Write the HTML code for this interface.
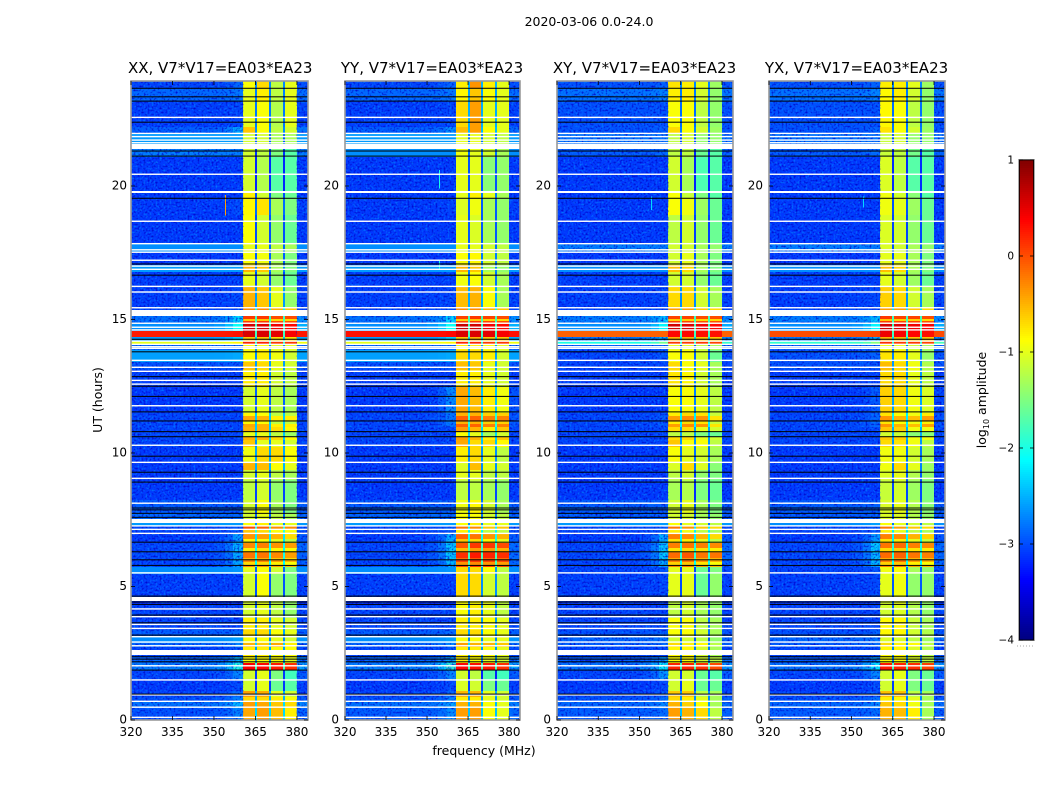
<!DOCTYPE html>
<html lang="en">
<head>
<meta charset="utf-8">
<title>2020-03-06 0.0-24.0</title>
<style>
html,body{margin:0;padding:0;background:#fff;width:1050px;height:800px;overflow:hidden}
svg{display:block}
text{font-family:"DejaVu Sans","Liberation Sans",sans-serif;fill:#000}
.cells rect,.cbar rect{shape-rendering:crispEdges}
</style>
</head>
<body>
<svg id="figure" xmlns="http://www.w3.org/2000/svg" width="1050" height="800" viewBox="0 0 1050 800">
  <defs>
    <filter id="speckLightA" x="0" y="0" width="100%" height="100%" color-interpolation-filters="sRGB">
      <feTurbulence type="fractalNoise" baseFrequency="0.5" numOctaves="1" seed="4"/>
      <feColorMatrix type="matrix" values="0 0 0 0 0  0 0 0 0 0.45  0 0 0 0 1  3 0 0 0 -1.42"/>
    </filter>
    <filter id="speckDarkA" x="0" y="0" width="100%" height="100%" color-interpolation-filters="sRGB">
      <feTurbulence type="fractalNoise" baseFrequency="0.5" numOctaves="1" seed="11"/>
      <feColorMatrix type="matrix" values="0 0 0 0 0  0 0 0 0 0  0 0 0 0 0.78  2.6 0 0 0 -1.25"/>
    </filter>
  </defs>
  <text x="589" y="26" text-anchor="middle" font-size="12.5">2020-03-06 0.0-24.0</text>
  <text transform="translate(102,400) rotate(-90)" text-anchor="middle" font-size="12.5">UT (hours)</text>
  <text x="484" y="755" text-anchor="middle" font-size="12.5">frequency (MHz)</text>
  <text transform="translate(986,400) rotate(-90)" text-anchor="middle" font-size="12.5">log<tspan font-size="8" dy="3">10</tspan><tspan dy="-3"> amplitude</tspan></text>
</svg>
<script>
// ---------- chart data (log10 amplitude) ----------
const polarisations = ['XX', 'YY', 'XY', 'YX'];
const baselineLabel = 'V7*V17=EA03*EA23';
const xTickLabels = [320, 335, 350, 365, 380];
const yTickLabels = [0, 5, 10, 15, 20];
const colorbarTickLabels = [-4, -3, -2, -1, 0, 1];

// start hour of each time block
const rowStartHours = [0,.45,.67,.86,1.09,1.5,1.87,2.13,2.36,2.73,2.88,3.11,3.37,3.82,4.31,4.61,5.47,5.73,5.99,6.25,6.63,7,7.27,7.38,7.75,8.24,8.99,9.36,9.63,10.22,10.49,10.97,11.5,12.47,13.11,13.41,13.86,14.04,14.19,14.34,14.57,14.87,15.13,15.47,16.22,16.78,17.04,17.53,17.87,18.91,19.55,19.74,21.09,21.39,21.95,22.21,23.18,23.67];

// per block: [background, leakage next to band, band 1, band 2, band 3, band 4]
const seriesXX = [
[-2.9,-2.6,-.45,-.4,-.55,-.8],[-2.6,-2.2,-.4,-.45,-.6,-.7],[-2.9,-2.6,-.7,-.7,-.8,-.9],[-3,-2.8,-.4,-.45,-1,-1.1],[-3.1,-3,-1.1,-1,-1.6,-1.7],[-3,-2.6,-1.1,-1,-1.5,-1.8],[-2.5,-1.6,.4,.35,.25,.15],[-2.7,-2.2,-.9,-.9,-.9,-1],[-3,-2.9,-.8,-.8,-.9,-.9],[-2.7,-2.5,-.5,-.6,-.45,-.8],
[-2.4,-2.3,-.9,-.9,-1,-1.1],[-2.8,-2.7,-.7,-.7,-.9,-1],[-3,-3,-.8,-.8,-1,-1.1],[-3,-3,-1.1,-1,-1.2,-1.4],[-3.2,-3.2,-1.1,-1,-1.2,-1.4],[-3.05,-3.05,-1.1,-.9,-1.4,-1.5],[-2.4,-2.35,-1,-.9,-1.1,-1.5],[-3,-2.4,-.3,-.3,-.4,-.5],[-3,-2.4,-.2,-.2,-.3,-.4],[-3,-2.3,-.3,-.25,-.35,-.4],
[-3.1,-2.5,-.35,-.4,-.5,-.7],[-3,-2.9,0,-.1,-.3,-.3],[-2.3,-2.3,-.9,-.8,-1,-1],[-2.7,-2.7,-1.1,-1,-1.2,-1.3],[-2.8,-2.8,-1.1,-.9,-1.3,-1.5],[-3.1,-3.1,-1.2,-1.1,-1.4,-1.5],[-3.1,-3.1,-1.1,-1,-1.2,-1.3],[-3.1,-3.1,-.5,-.55,-.9,-1],[-3.1,-3.1,-.95,-.7,-.7,-.9],[-3,-3,-.6,-1,-1,-1.1],
[-3,-3,-.5,-.5,-.7,-.85],[-3,-3,-.45,-.5,-.8,-.8],[-3.1,-3.1,-1.1,-1,-1.2,-1.3],[-3.05,-3.05,-.8,-.8,-1.1,-1.2],[-2.9,-2.9,-.6,-.7,-1,-1.1],[-2.25,-2.2,-.9,-.8,-.95,-1.1],[-2.7,-2.7,-.9,-.9,-1,-1],[-1,-.8,.2,.2,.1,.1],[-2.3,-2,-.6,-.6,-.7,-.7],[.25,.3,.55,.55,.5,.4],
[-2.4,-1.7,.6,.55,.45,.35],[-2.6,-2,.1,.1,0,0],[-3,-3,-.3,-.3,-.5,-.6],[-3.05,-3,-.5,-.6,-1,-1.4],[-3.05,-3.05,-1,-1.1,-1.4,-1.6],[-2.3,-2.3,-.5,-.6,-1.3,-1.5],[-3.1,-3.1,-.9,-.95,-1.3,-1.5],[-2.4,-2.4,-1,-1,-1.2,-1.3],[-3.1,-3.1,-.9,-1.1,-1.4,-1.6],[-3.1,-3,-.85,-.75,-1.3,-1.5],
[-3.1,-3.1,-.8,-1.1,-1.5,-1.6],[-3.1,-3.1,-1.1,-1.25,-1.7,-1.7],[-2.5,-2.5,-1.1,-1.2,-1.5,-1.7],[-2.3,-2.3,-1.1,-1.1,-1.3,-1.3],[-2.8,-2.3,-.6,-.9,-1.2,-1.1],[-3.05,-3,-1,-.9,-1.25,-1],[-2.7,-2.6,-1,-.8,-1.2,-1],[-3,-2.8,-.9,-.7,-1.2,-1]
];
const seriesYY = [
[-2.8,-2.5,-.4,-.4,-.9,-1],[-2.6,-2.3,-.5,-.5,-.9,-1],[-2.9,-2.6,-.8,-.8,-1,-1.1],[-3,-2.8,-.5,-.5,-1,-1.1],[-3.1,-3,-1.05,-1.1,-1.5,-1.6],[-3,-2.6,-1.1,-1.2,-1.7,-1.8],[-2.5,-1.5,.35,.3,.25,.15],[-2.7,-2.3,-.8,-.9,-1,-1.1],[-3,-2.9,-.8,-.8,-.9,-1],[-2.7,-2.5,-.4,-.5,-.5,-.6],
[-2.4,-2.3,-.9,-.9,-1,-1],[-2.8,-2.7,-.7,-.7,-.9,-1],[-3,-3,-.8,-.8,-.9,-1],[-3,-3,-.9,-.8,-1,-1.2],[-3.2,-3.2,-.9,-.9,-1,-1.2],[-3.05,-3.05,-.7,-.7,-1.1,-1.2],[-2.4,-2.35,-.7,-.7,-.9,-1.2],[-3,-2.3,.05,.1,.05,0],[-3,-2.2,.15,.25,.2,.15],[-3,-2.2,-.05,.1,.1,0],
[-3.1,-2.4,-.1,-.2,-.35,-.5],[-3,-2.9,-.2,-.3,-.6,-.6],[-2.3,-2.3,-.9,-.8,-1,-1],[-2.7,-2.7,-.9,-.9,-1.1,-1.2],[-2.8,-2.8,-.95,-.85,-1.1,-1.3],[-3.1,-3.1,-1.2,-1.2,-1.3,-1.4],[-3.1,-3.1,-1,-1,-1.2,-1.2],[-3.1,-3.1,-1.05,-.55,-1,-1.1],[-3.1,-3.1,-.8,-.7,-1,-1.2],[-3,-3,-.45,-.7,-.7,-.85],
[-3,-3,-.4,-.5,-.8,-.6],[-3,-2.7,-.1,-.1,-.25,-.25],[-3.1,-2.6,-.45,-.55,-.8,-.95],[-3.05,-3.05,-.8,-.8,-1,-1.1],[-2.9,-2.9,-.55,-.6,-1,-1.1],[-2.25,-2.2,-.7,-.7,-.8,-1.1],[-2.7,-2.7,-.8,-.8,-.9,-1],[-1,-.8,.2,.2,.1,.1],[-2.3,-2,-.6,-.5,-.6,-.6],[.3,.35,.55,.55,.5,.4],
[-2.4,-1.7,.65,.6,.45,.35],[-2.6,-2,.05,.1,.05,0],[-3,-3,-.3,-.3,-.5,-.6],[-3.05,-3,-.55,-.5,-.9,-1.3],[-3.05,-3.05,-.95,-.9,-1.1,-1.3],[-2.3,-2.3,-.5,-.6,-1.3,-1.4],[-3.1,-3.1,-.9,-.85,-1.1,-1.2],[-2.4,-2.4,-1,-1,-1.1,-1.2],[-3.1,-3.1,-1,-1.05,-1.3,-1.4],[-3.1,-3.05,-1.05,-.95,-1.3,-1.4],
[-3.1,-3.1,-1,-.8,-1,-1.3],[-3.1,-3.1,-1,-1,-1.45,-1.4],[-2.4,-2.4,-.95,-1,-1.1,-1.3],[-2.3,-2.3,-1,-1,-1.1,-1.2],[-2.8,-2.5,-.55,-.4,-.9,-1],[-3.05,-3,-.7,-.4,-1,-1],[-2.7,-2.6,-.85,-.6,-.9,-1],[-3,-2.8,-.8,-.35,-.8,-1]
];
const seriesXY = [
[-2.8,-2.7,-.4,-.5,-.7,-1.2],[-2.7,-2.5,-.5,-.65,-.9,-1.3],[-2.9,-2.7,-.7,-.8,-1,-1.3],[-3,-2.9,-.6,-.6,-1.2,-1.3],[-3.1,-3,-1.1,-1,-1.6,-1.6],[-3,-2.5,-1.1,-1.1,-1.6,-1.7],[-2.6,-1.8,.2,.2,.15,0],[-2.8,-2.4,-.9,-.9,-1.1,-1.2],[-3,-3,-.85,-.85,-1.1,-1.3],[-2.8,-2.7,-.7,-.8,-.85,-1.2],
[-2.7,-2.6,-1.1,-1.1,-1.2,-1.4],[-2.9,-2.8,-.9,-.9,-1.1,-1.3],[-3,-3,-.9,-.9,-1.2,-1.3],[-3,-3,-1.2,-1.1,-1.3,-1.4],[-3.1,-3.1,-1.2,-1.1,-1.3,-1.4],[-3.05,-3,-1,-1,-1.6,-1.4],[-3,-2.9,-1,-1,-1.6,-1.5],[-3,-2.4,-.25,-.2,-.35,-.5],[-3,-2.2,-.15,-.05,-.2,-.2],[-3,-2.2,-.25,-.2,-.25,-.3],
[-3.1,-2.4,-.25,-.3,-.5,-.7],[-3,-2.9,-.2,-.35,-.6,-.7],[-2.3,-2.3,-.9,-1,-1.1,-1.2],[-2.8,-2.8,-1.1,-1.1,-1.3,-1.4],[-2.8,-2.8,-1.1,-1,-1.3,-1.5],[-3.1,-3.1,-1.3,-1.25,-1.5,-1.6],[-3.1,-3.1,-1.2,-1.1,-1.4,-1.5],[-3.1,-3.1,-1.05,-.7,-1.05,-1.45],[-3.1,-3.1,-.9,-1,-1.1,-1.3],[-3,-3,-.6,-.9,-.9,-1.2],
[-3,-3,-.7,-.7,-1,-1.1],[-3,-2.9,-.4,-.3,-.35,-.75],[-3.1,-3.1,-.9,-.9,-1,-1.2],[-3.05,-3.05,-.75,-.85,-1.1,-1.3],[-3,-3,-.7,-.9,-1,-1.3],[-3,-2.9,-.9,-.9,-1.1,-1.6],[-2.8,-2.8,-1,-1,-1.2,-1.3],[-2,-1.5,.1,.1,.1,.05],[-2.5,-2.2,-.5,-.5,-.6,-.6],[-.1,-.1,.35,.35,.3,.3],
[-2.4,-1.8,.6,.55,.45,.35],[-2.5,-2.1,.05,.05,0,0],[-3,-3,-.4,-.4,-.6,-.7],[-3.05,-3,-.7,-.7,-1.1,-1.3],[-3.05,-3.05,-1.1,-1.1,-1.4,-1.6],[-2.4,-2.4,-.55,-.7,-1.3,-1.5],[-3.1,-3.1,-1.1,-1,-1.3,-1.5],[-2.5,-2.5,-1.1,-1.1,-1.3,-1.4],[-3.1,-3.1,-1.2,-1.1,-1.4,-1.6],[-3.1,-3.1,-.9,-.95,-1.35,-1.6],
[-3.1,-3.1,-.9,-1.15,-1.5,-1.7],[-3.1,-3.1,-1.1,-1.3,-1.75,-1.7],[-2.8,-2.7,-1.2,-1.2,-1.6,-1.7],[-2.6,-2.6,-1.2,-1.1,-1.4,-1.4],[-2.9,-2.8,-.7,-.9,-1.1,-1.35],[-2.9,-2.9,-.9,-.9,-1.2,-1.4],[-2.6,-2.5,-.8,-.8,-1.1,-1.4],[-2.9,-2.8,-.75,-.8,-1,-1.35]
];
const seriesYX = [
[-2.8,-2.7,-.5,-.55,-.8,-1.3],[-2.7,-2.5,-.6,-.7,-.95,-1.3],[-2.9,-2.7,-.8,-.85,-1,-1.3],[-3,-2.9,-.55,-.55,-1.2,-1.3],[-3.1,-3,-1.1,-1,-1.5,-1.6],[-3,-2.6,-1.1,-1,-1.5,-1.6],[-2.6,-1.9,.25,.2,.15,.05],[-2.8,-2.4,-.9,-.9,-1.05,-1.2],[-3,-3,-.85,-.85,-1.05,-1.25],[-2.8,-2.7,-.7,-.8,-.85,-1.2],
[-2.7,-2.6,-1.05,-1.05,-1.2,-1.35],[-2.9,-2.8,-.85,-.85,-1.1,-1.25],[-3,-3,-.85,-.85,-1.15,-1.3],[-3,-3,-1.1,-1.05,-1.25,-1.4],[-3.1,-3.1,-1.1,-1,-1.25,-1.4],[-3.05,-3,-1,-.95,-1.4,-1.4],[-3,-2.9,-.95,-.9,-1.3,-1.4],[-3,-2.3,-.25,-.2,-.4,-.5],[-3,-2.3,-.15,-.1,-.2,-.25],[-3,-2.2,-.2,-.15,-.25,-.3],
[-3.1,-2.5,-.25,-.3,-.5,-.65],[-3,-2.9,-.2,-.4,-.6,-.7],[-2.4,-2.3,-.9,-1,-1.1,-1.2],[-2.8,-2.8,-1.05,-1.05,-1.25,-1.4],[-2.8,-2.8,-1.05,-1,-1.25,-1.45],[-3.1,-3.1,-1.15,-1.1,-1.35,-1.5],[-3.1,-3.1,-1.05,-1,-1.25,-1.4],[-3.1,-3.1,-.95,-.7,-1,-1.35],[-3.1,-3.1,-.95,-.95,-1.1,-1.3],[-3,-3,-.7,-.75,-.95,-1.2],
[-3,-3,-.6,-.65,-.95,-.95],[-3,-2.8,-.35,-.5,-.55,-.4],[-3.1,-2.9,-.65,-.7,-.95,-1.05],[-3.05,-3.05,-.7,-.7,-1,-1.2],[-2.9,-2.9,-.55,-.7,-.95,-1.25],[-2.9,-2.8,-.75,-.8,-1,-1.4],[-2.8,-2.8,-.95,-1,-1.15,-1.3],[-1.9,-1.4,.15,.1,.1,.05],[-2.5,-2.2,-.5,-.5,-.6,-.6],[0,.05,.45,.4,.35,.3],
[-2.4,-1.8,.6,.55,.45,.4],[-2.5,-2.1,.1,.05,.05,0],[-3,-3,-.4,-.4,-.6,-.7],[-3.05,-3,-.65,-.7,-1.1,-1.3],[-3.05,-3.05,-1,-1.1,-1.35,-1.6],[-2.4,-2.4,-.55,-.7,-1.3,-1.5],[-3.1,-3.1,-1,-1,-1.3,-1.5],[-2.5,-2.5,-1.05,-1.1,-1.3,-1.4],[-3.1,-3.1,-1.05,-1.1,-1.4,-1.6],[-3.1,-3.1,-.95,-1,-1.35,-1.6],
[-3.1,-3.1,-.95,-1.1,-1.45,-1.7],[-3.1,-3.1,-1.05,-1.2,-1.7,-1.7],[-2.8,-2.7,-1.15,-1.2,-1.55,-1.7],[-2.6,-2.6,-1.15,-1.1,-1.4,-1.4],[-2.9,-2.8,-.75,-.9,-1.1,-1.35],[-2.9,-2.9,-.85,-.9,-1.2,-1.4],[-2.6,-2.5,-.85,-.8,-1.1,-1.4],[-2.9,-2.8,-.8,-.8,-1,-1.35]
];
const seriesByPol = [seriesXX, seriesYY, seriesXY, seriesYX];

// short dips inside the band during the bright blocks: start hour, end hour, level change
const stripeStartHours = [5.79, 6.0, 6.3, 6.63, 7.0, 10.6, 11.1, 11.4, 14.95];
const stripeEndHours = [5.9, 6.05, 6.45, 6.77, 7.14, 10.8, 11.2, 11.5, 15.03];
const stripeChange = [-.4, -.3, -.5, -.5, -.6, -.5, -.4, -.4, -.7];

// flagged integrations, in hours
const whiteLineHours = [.10,.48,.70,.94,1.50,2.03,2.78,2.92,3.12,3.43,3.58,3.87,4.16,5.51,6.99,7.14,7.27,8.12,9.05,9.65,10.29,11.77,12.58,12.72,13.06,13.21,13.47,13.92,13.98,14.07,14.19,14.61,14.71,14.86,15.44,16.03,16.24,16.88,17.0,17.22,17.52,17.61,17.84,18.68,20.44,21.62,21.72,21.85,21.97,22.57];
const whiteBandStartHours = [2.43,4.46,7.37,15.13,19.72,21.39];
const whiteBandEndHours = [2.62,4.61,7.51,15.36,19.80,21.57];
const blackLineHours = [.97,1.87,2.18,2.28,2.37,3.18,3.64,3.93,4.33,4.42,4.64,5.79,6.0,6.3,6.66,7.59,7.74,7.87,7.94,8.91,9.28,9.88,10.61,10.8,11.2,11.54,12.12,12.5,12.86,13.79,14.26,16.66,17.08,19.54,21.12,21.31,22.39,23.18,23.34,23.66];

// isolated interference: polarisation index, frequency MHz, start hour, end hour, level
const rfiPol = [0, 1, 1, 2, 3];
const rfiFreq = [354, 354.5, 354.5, 354, 354];
const rfiStart = [18.9, 19.9, 16.9, 19.1, 19.2];
const rfiEnd = [19.66, 20.6, 17.2, 19.6, 19.6];
const rfiLevel = [-.4, -2, -2, -2.3, -2.3];

// ---------- drawing ----------
const SVGNS = 'http://www.w3.org/2000/svg';
const svg = document.getElementById('figure');
const AX_TOP = 81, AX_BOTTOM = 720, PX_PER_HOUR = 26.7, F_MIN = 320, F_MAX = 384, TOP_HOUR = (AX_BOTTOM - AX_TOP) / PX_PER_HOUR;
const panelLeft = [131, 345, 557, 769];
const panelRight = [308, 520, 733, 945];
const V_MIN = -4, V_MAX = 1;
const BAND_COLUMNS = [4, 6, 8, 10];
const OFFBAND_COLUMNS = [0, 1, 2, 3, 11];

function make(tag, attrs, parent) {
  const el = document.createElementNS(SVGNS, tag);
  for (const k in attrs) el.setAttribute(k, attrs[k]);
  parent.appendChild(el);
  return el;
}
function clip01(v) { return Math.max(0, Math.min(1, v)); }
function jet(value) {
  const t = clip01((value - V_MIN) / (V_MAX - V_MIN));
  const r = clip01(1.5 - Math.abs(4 * t - 3));
  const g = clip01(1.5 - Math.abs(4 * t - 2));
  const b = clip01(1.5 - Math.abs(4 * t - 1));
  return 'rgb(' + Math.round(r * 255) + ',' + Math.round(g * 255) + ',' + Math.round(b * 255) + ')';
}
function yOf(hour) { return AX_BOTTOM - hour * PX_PER_HOUR; }
function xScale(p) {
  return function (f) { return panelLeft[p] + (f - F_MIN) / (F_MAX - F_MIN) * (panelRight[p] - panelLeft[p]); };
}
// faint off-band levels render a little deeper than their block estimate
function offband(v) { return v < -2 ? -3.1 + (v + 3.1) * 0.6 : v; }
function columnsFor(row) {
  const base = offband(row[0]), d = row[1] - row[0];
  const mean = (row[2] + row[3] + row[4] + row[5]) / 4;
  const notch = Math.min(mean - 1.75, -1.8);
  return [
    [F_MIN, 350, base], [350, 354, base + .1 * d], [354, 357, base + .35 * d], [357, 360.5, base + .85 * d],
    [360.5, 364.8, row[2]], [364.8, 365.6, notch],
    [365.6, 369.8, row[3]], [369.8, 370.6, notch],
    [370.6, 374.8, row[4]], [374.8, 375.6, notch],
    [375.6, 380, row[5]], [380, F_MAX, base + .25 * d]
  ];
}
function rowEnd(i) { return i + 1 < rowStartHours.length ? rowStartHours[i + 1] : TOP_HOUR; }

polarisations.forEach(function (pol, p) {
  const x = xScale(p), series = seriesByPol[p];
  const panel = make('g', {}, svg);
  
  

  const cells = make('g', { class: 'cells' }, panel);
  
  
  series.forEach(function (row, i) {
    const yTop = Math.round(yOf(rowEnd(i))), yBot = Math.round(yOf(rowStartHours[i]));
    columnsFor(row).forEach(function (col) {
      const x0 = Math.round(x(col[0])), x1 = Math.round(x(col[1]));
      const cell = make('rect', { x: x0, y: yTop, width: Math.max(1, x1 - x0), height: yBot - yTop, fill: jet(col[2]) }, cells);
      
      
    });
  });

  // band dips within bright blocks
  stripeStartHours.forEach(function (h0, s) {
    const h1 = stripeEndHours[s];
    let idx = 0;
    for (let i = 0; i < rowStartHours.length; i++) if (rowStartHours[i] <= h0) idx = i;
    const cols = columnsFor(series[idx]);
    BAND_COLUMNS.forEach(function (ci) {
      const x0 = Math.round(x(cols[ci][0])), x1 = Math.round(x(cols[ci][1]));
      const stripe = make('rect', { x: x0, y: Math.round(yOf(h1)), width: x1 - x0, height: Math.max(1, Math.round(yOf(h0)) - Math.round(yOf(h1))), fill: jet(cols[ci][2] + stripeChange[s]) }, cells);
      
      
    });
  });

  // grain texture over the off-band regions
  [[F_MIN, 360.5], [380, F_MAX]].forEach(function (range) {
    ['speckLightA', 'speckDarkA'].forEach(function (filterId) {
      const grain = make('rect', { x: x(range[0]), y: AX_TOP, width: x(range[1]) - x(range[0]), height: AX_BOTTOM - AX_TOP, filter: 'url(#' + filterId + ')' }, panel);
      
      
    });
  });

  // bright off-band rows are smooth: repaint them above the grain
  const smooth = make('g', { class: 'cells' }, panel);
  
  
  series.forEach(function (row, i) {
    if (row[0] <= -2.45) return;
    const yTop = Math.round(yOf(rowEnd(i))), yBot = Math.round(yOf(rowStartHours[i]));
    const cols = columnsFor(row);
    OFFBAND_COLUMNS.forEach(function (ci) {
      const x0 = Math.round(x(cols[ci][0])), x1 = Math.round(x(cols[ci][1]));
      const cell = make('rect', { x: x0, y: yTop, width: x1 - x0, height: yBot - yTop, fill: jet(cols[ci][2]) }, smooth);
      
      
    });
  });

  const spikes = make('g', { class: 'cells' }, panel);
  
  
  rfiPol.forEach(function (rp, i) {
    if (rp !== p) return;
    const spot = make('rect', { x: Math.round(x(rfiFreq[i])), y: yOf(rfiEnd[i]), width: 1, height: yOf(rfiStart[i]) - yOf(rfiEnd[i]), fill: jet(rfiLevel[i]) }, spikes);
    
    
  });

  const flags = make('g', { class: 'flags' }, panel);
  
  
  const L = panelLeft[p], W = panelRight[p] - panelLeft[p];
  whiteLineHours.forEach(function (h) {
    const line = make('rect', { x: L, y: yOf(h) - .7, width: W, height: 1.4, fill: '#fff' }, flags);
    
    
  });
  whiteBandStartHours.forEach(function (h, i) {
    const yTop = Math.round(yOf(whiteBandEndHours[i])), yBot = Math.round(yOf(h));
    const band = make('rect', { x: L, y: yTop, width: W, height: yBot - yTop, fill: '#fff' }, flags);
    
    
  });
  blackLineHours.forEach(function (h) {
    const line = make('rect', { x: L, y: yOf(h) - .5, width: W, height: 1, fill: '#000' }, flags);
    
    
  });

  const frame = make('rect', { x: L, y: AX_TOP, width: W, height: AX_BOTTOM - AX_TOP, fill: 'none', stroke: '#999', 'stroke-width': 1.6 }, panel);
  
  

  xTickLabels.forEach(function (f) {
    const tx = x(f);
    const tb = make('line', { x1: tx, x2: tx, y1: AX_BOTTOM, y2: AX_BOTTOM - 4, stroke: '#000', 'stroke-width': .8 }, panel);
    
    
    const tt = make('line', { x1: tx, x2: tx, y1: AX_TOP, y2: AX_TOP + 4, stroke: '#000', 'stroke-width': .8 }, panel);
    
    
    const lab = make('text', { x: tx, y: 736, 'text-anchor': 'middle', 'font-size': 12 }, panel);
    
    
    lab.textContent = f;
  });
  yTickLabels.forEach(function (h) {
    const ty = yOf(h);
    const tl = make('line', { x1: L, x2: L + 4, y1: ty, y2: ty, stroke: '#000', 'stroke-width': .8 }, panel);
    
    
    const tr = make('line', { x1: L + W, x2: L + W - 4, y1: ty, y2: ty, stroke: '#000', 'stroke-width': .8 }, panel);
    
    
    const lab = make('text', { x: L - (p === 0 ? 4 : 6), y: ty + 3.5, 'text-anchor': 'end', 'font-size': 12 }, panel);
    
    
    lab.textContent = h;
  });

  const title = make('text', { x: L + W / 2 - 0.5 + (p === 0 ? 1.2 : 0), y: 73, 'text-anchor': 'middle', 'font-size': 15 }, panel);
  
  
  title.textContent = pol + ', ' + baselineLabel;
});

// ---------- colorbar ----------
const CB_LEFT = 1019, CB_RIGHT = 1034, CB_TOP = 160, CB_BOTTOM = 640;
function cbY(v) { return CB_BOTTOM - (v - V_MIN) / (V_MAX - V_MIN) * (CB_BOTTOM - CB_TOP); }
const cbar = make('g', { class: 'cbar' }, svg);


for (let py = CB_TOP; py < CB_BOTTOM; py += 2) {
  const level = V_MAX - (py + 1 - CB_TOP) / (CB_BOTTOM - CB_TOP) * (V_MAX - V_MIN);
  const swatch = make('rect', { x: CB_LEFT, y: py, width: CB_RIGHT - CB_LEFT, height: 2, fill: jet(level) }, cbar);
  
  
}
const cbFrameOuter = make('rect', { x: CB_LEFT - .5, y: CB_TOP - .5, width: CB_RIGHT - CB_LEFT + 1, height: CB_BOTTOM - CB_TOP + 1, fill: 'none', stroke: '#aaa', 'stroke-width': 1 }, svg);


const cbFrame = make('rect', { x: CB_LEFT + .5, y: CB_TOP, width: CB_RIGHT - CB_LEFT - 1, height: CB_BOTTOM - CB_TOP, fill: 'none', stroke: '#000', 'stroke-width': .8 }, svg);


colorbarTickLabels.forEach(function (v) {
  const ty = cbY(v);
  const a = make('line', { x1: CB_LEFT, x2: CB_LEFT + 4, y1: ty, y2: ty, stroke: '#000', 'stroke-width': .8 }, svg);
  
  
  const b = make('line', { x1: CB_RIGHT, x2: CB_RIGHT - 4, y1: ty, y2: ty, stroke: '#000', 'stroke-width': .8 }, svg);
  
  
  const lab = make('text', { x: 1014, y: ty + 3.5, 'text-anchor': 'end', 'font-size': 10.5 }, svg);
  
  
  lab.textContent = (v < 0 ? '\u2212' + (-v) : String(v));
});
const cbDots = make('line', { x1: 1017, x2: 1035, y1: 646, y2: 646, stroke: '#aaa', 'stroke-width': 1, 'stroke-dasharray': '1 2' }, svg);


</script>
</body>
</html>
